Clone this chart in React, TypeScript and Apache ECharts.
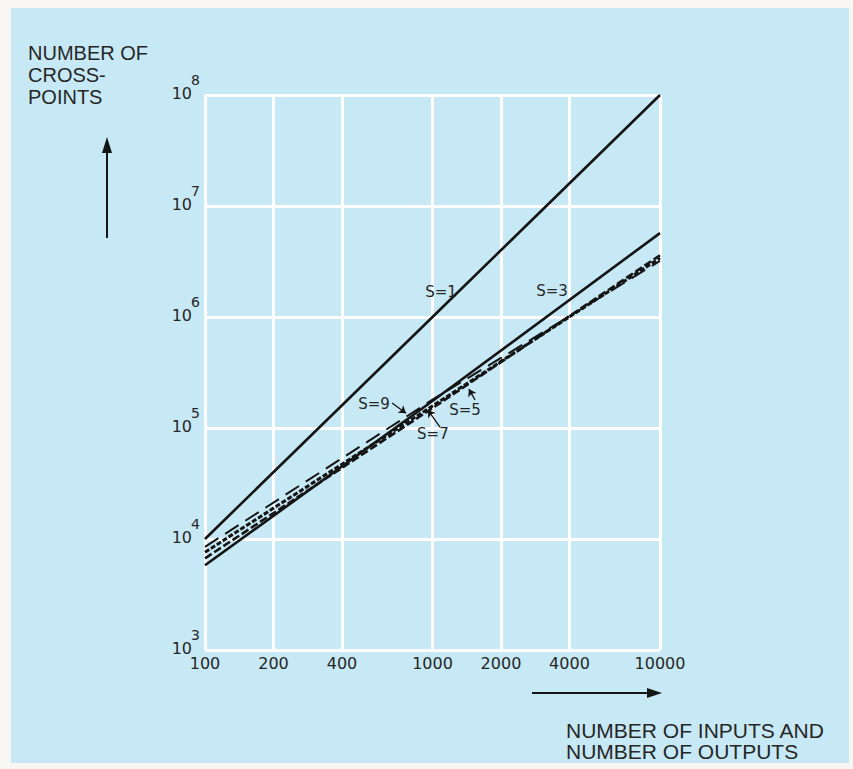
import React, { useEffect, useRef } from "react";
import * as echarts from "echarts";

const inputs = [100, 1000, 10000];
const s1 = [1e4, 1e6, 1e8];
const s3 = [5.8e3, 1.75e5, 5.7e6];
const s5 = [6.7e3, 1.51e5, 3.6e6];
const s7 = [7.6e3, 1.58e5, 3.4e6];
const s9 = [8.5e3, 1.8e5, 3.2e6];
const extraXTicks = [200, 400, 2000, 4000];

const seriesNames = ["S=1", "S=3", "S=5", "S=7", "S=9"];
const labelPos: [number, number][] = [
  [1090, 1.68e6],
  [3350, 1.71e6],
  [1390, 1.45e5],
  [1004, 8.8e4],
  [553, 1.64e5],
];
const pointers: [[number, number], [number, number]][] = [
  [[664, 1.68e5], [765, 1.36e5]],
  [[1079, 1.02e5], [955, 1.45e5]],
  [[1538, 1.79e5], [1445, 2.24e5]],
];

const INK = "#151515";
const TEXT = "#262626";
const BLUE = "#c6e9f5";
const FONT = "'Liberation Sans', Arial, sans-serif";
const TICKFONT = "'DejaVu Sans', sans-serif";

export default function App() {
  const ref = useRef<HTMLDivElement>(null);
  useEffect(() => {
    document.body.style.margin = "0";
    if (!ref.current) return;
    const chart = echarts.init(ref.current, null, { renderer: "svg" });
    const mk = (vals: number[]) => inputs.map((x, i) => [x, vals[i]]);
    const lineSeries = (name: string, vals: number[], width: number, type: any) => ({
      name,
      type: "line",
      data: mk(vals),
      symbol: "none",
      z: 3,
      lineStyle: { color: INK, width, type },
    });
    chart.setOption({
      animation: false,
      backgroundColor: "#f7f6f2",
      textStyle: { fontFamily: FONT },
      graphic: [
        { type: "rect", z: -10, shape: { x: 11, y: 8, width: 838, height: 755 }, style: { fill: BLUE } },
        {
          type: "text",
          left: 28,
          top: 42,
          style: {
            text: "NUMBER OF\nCROSS-\nPOINTS",
            font: `20px ${FONT}`,
            lineHeight: 22,
            fill: TEXT,
          },
        },
        { type: "line", shape: { x1: 107, y1: 238, x2: 107, y2: 150 }, style: { stroke: INK, lineWidth: 2 } },
        { type: "polygon", shape: { points: [[102, 153], [112, 153], [107, 137]] }, style: { fill: INK } },
        { type: "line", shape: { x1: 532, y1: 693, x2: 650, y2: 693 }, style: { stroke: INK, lineWidth: 2 } },
        { type: "polygon", shape: { points: [[647, 688], [647, 698], [662, 693]] }, style: { fill: INK } },
        {
          type: "text",
          left: 566,
          top: 720,
          style: {
            text: "NUMBER OF INPUTS AND\nNUMBER OF OUTPUTS",
            font: `21px ${FONT}`,
            lineHeight: 21,
            fill: TEXT,
          },
        },
      ],
      grid: { left: 205, right: 193, top: 95, bottom: 119, containLabel: false },
      xAxis: {
        type: "log",
        logBase: 10,
        min: 100,
        max: 10000,
        axisLine: { show: false },
        axisTick: { show: false },
        splitLine: { show: true, lineStyle: { color: "#ffffff", width: 3 } },
        axisLabel: {
          color: TEXT,
          fontSize: 16,
          margin: 5,
          fontFamily: TICKFONT,
          showMinLabel: true,
          showMaxLabel: true,
          formatter: (v: number) => String(Math.round(v)),
        },
      },
      yAxis: {
        type: "log",
        logBase: 10,
        min: 1e3,
        max: 1e8,
        splitNumber: 5,
        axisLine: { show: false },
        axisTick: { show: false },
        splitLine: { show: true, lineStyle: { color: "#ffffff", width: 3 } },
        axisLabel: {
          margin: 5,
          showMinLabel: true,
          showMaxLabel: true,
          padding: [0, 0, 14, 0],
          formatter: (v: number) => `{s|${Math.round(Math.log10(v))}}\n{b|10}`,
          rich: {
            b: { fontSize: 16, color: TEXT, fontFamily: TICKFONT, lineHeight: 16, padding: [0, 8, 0, 0] },
            s: { fontSize: 14, color: TEXT, fontFamily: TICKFONT, lineHeight: 10 },
          },
        },
      },
      series: [
        {
          ...lineSeries("S=1", s1, 2.6, "solid"),
          markLine: {
            z: 1,
            silent: true,
            symbol: ["none", "none"],
            lineStyle: { color: "#ffffff", width: 3, type: "solid" },
            label: { show: true, position: "start", distance: 5, color: TEXT, fontSize: 16, fontFamily: TICKFONT, formatter: (p: any) => String(p.value) },
            data: extraXTicks.map((v) => ({ xAxis: v })),
          },
          markPoint: {
            symbol: "circle",
            symbolSize: 0,
            label: { show: true, position: "inside", color: TEXT, fontSize: 15, fontFamily: TICKFONT, formatter: (p: any) => p.name },
            data: seriesNames.map((n, i) => ({ name: n, coord: labelPos[i] })),
          },
        },
        {
          ...lineSeries("S=3", s3, 2.6, "solid"),
          markLine: {
            silent: true,
            symbol: ["none", "arrow"],
            symbolSize: 7,
            label: { show: false },
            lineStyle: { color: INK, width: 1.3, type: "solid", curveness: 0.3 },
            data: pointers.map(([a, b]) => [{ coord: a }, { coord: b }]),
          },
        },
        lineSeries("S=5", s5, 2.6, [8, 3]),
        lineSeries("S=7", s7, 3, [5, 2]),
        lineSeries("S=9", s9, 2, [16, 8]),
      ],
    });
    return () => chart.dispose();
  }, []);
  return <div ref={ref} style={{ width: 853, height: 769 }} />;
}
